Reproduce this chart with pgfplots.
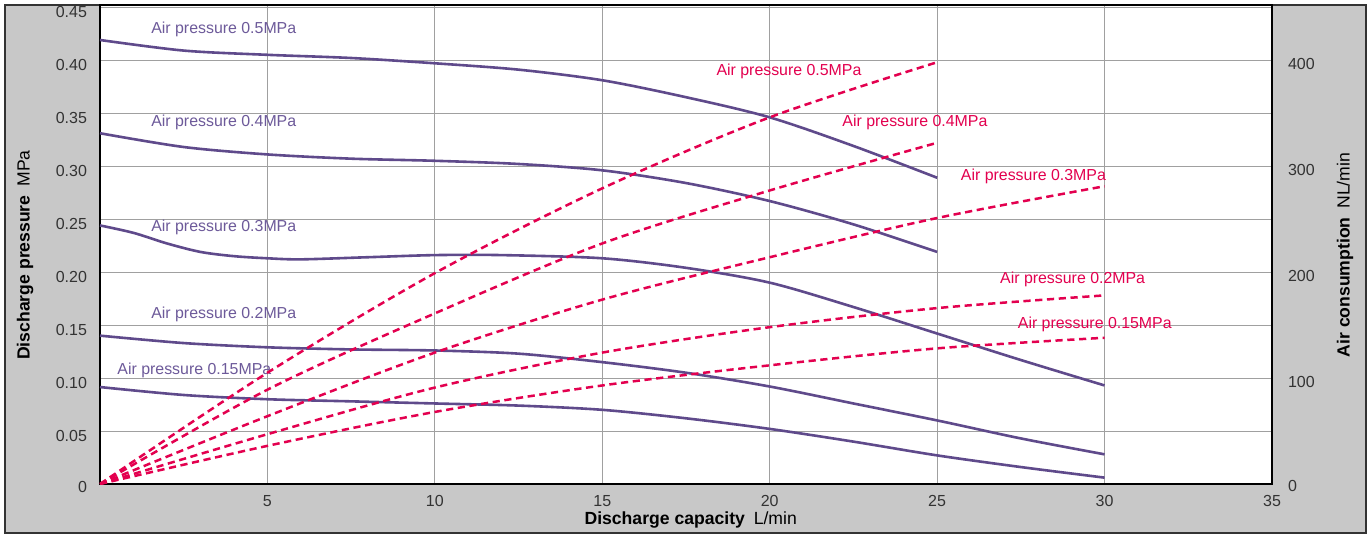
\documentclass[border=0pt]{standalone}
\usepackage{fontspec}
\setmainfont{Liberation Sans}
\usepackage{pgfplots}
\pgfplotsset{compat=1.18}
\definecolor{purp}{HTML}{5F4A8B}
\definecolor{purptxt}{HTML}{6D5A9A}
\definecolor{redd}{HTML}{E3004F}
\definecolor{framegray}{HTML}{C8C8C8}
\definecolor{gridgray}{HTML}{A0A0A0}
\definecolor{ticktxt}{HTML}{333333}
\begin{document}
\begin{tikzpicture}[x=1pt,y=1pt]
\useasboundingbox (-50,-27) rectangle (636,242);
\fill[framegray, draw=black!80, line width=0.9pt] (-47.5,-24.5) rectangle (633,239.5);
\begin{axis}[
  at={(0,0)}, anchor=south west,
  scale only axis, width=586pt, height=239.5pt,
  xmin=0, xmax=35, ymin=0, ymax=0.452,
  axis background/.style={fill=white},
  xtick={5,10,15,20,25,30,35},
  ytick={0,0.05,0.1,0.15,0.2,0.25,0.3,0.35,0.4,0.45},
  yticklabels={\raisebox{2.5pt}{0},0.05,0.10,0.15,0.20,0.25,0.30,0.35,0.40,\raisebox{-2pt}{0.45}},
  /pgf/number format/assume math mode=true,
  grid=major, major grid style={gridgray, line width=0.5pt},
  major tick length=0pt,
  axis line style={black, line width=1pt},
  tick label style={font=\fontsize{8}{9}\selectfont, text=ticktxt},
  xticklabel style={yshift=-2pt},
  yticklabel style={xshift=-3pt, yshift=-2.5pt},
  xlabel={\textbf{Discharge capacity}\enspace L/min},
  ylabel={\textbf{Discharge pressure}\enspace MPa},
  every axis x label/.style={at={(axis description cs:0.504,-0.075)}, anchor=center, font=\fontsize{8.8}{10}\selectfont},
  every axis y label/.style={at={(axis description cs:-0.064,0.478)}, rotate=90, anchor=center, font=\fontsize{8.8}{10}\selectfont},
  clip=false,
]
\addplot[purp, line width=1.3pt, smooth] coordinates {(0,0.419)(2.5,0.409)(5,0.405)(7.5,0.402)(10,0.397)(12.5,0.391)(15,0.381)(17.5,0.365)(20,0.346)(22.5,0.319)(25,0.289)};
\addplot[purp, line width=1.3pt, smooth] coordinates {(0,0.331)(2.5,0.318)(5,0.311)(7.5,0.307)(10,0.305)(12.5,0.302)(15,0.296)(17.5,0.284)(20,0.267)(22.5,0.245)(25,0.219)};
\addplot[purp, line width=1.3pt, smooth] coordinates {(0,0.244)(1,0.237)(2,0.227)(3,0.219)(4,0.215)(5,0.213)(6,0.212)(8,0.214)(10,0.216)(12,0.216)(15,0.213)(17.5,0.204)(20,0.190)(22.5,0.167)(25,0.142)(27.5,0.117)(30,0.093)};
\addplot[purp, line width=1.3pt, smooth] coordinates {(0,0.140)(2.5,0.133)(5,0.129)(7.5,0.127)(10,0.126)(12.5,0.123)(15,0.115)(17.5,0.105)(20,0.092)(22.5,0.076)(25,0.060)(27.5,0.043)(30,0.028)};
\addplot[purp, line width=1.3pt, smooth] coordinates {(0,0.0915)(2.5,0.084)(5,0.080)(7.5,0.078)(10,0.076)(12.5,0.074)(15,0.070)(17.5,0.062)(20,0.052)(22.5,0.040)(25,0.027)(27.5,0.016)(30,0.006)};
\begin{scope}[every node/.style={anchor=west, inner sep=0pt, font=\fontsize{7.95}{9}\selectfont}]
\node[text=purptxt] at (axis cs:1.52,0.429) {Air pressure 0.5MPa};
\node[text=purptxt] at (axis cs:1.52,0.341) {Air pressure 0.4MPa};
\node[text=purptxt] at (axis cs:1.52,0.242) {Air pressure 0.3MPa};
\node[text=purptxt] at (axis cs:1.52,0.160) {Air pressure 0.2MPa};
\node[text=purptxt] at (axis cs:0.51,0.107) {Air pressure 0.15MPa};
\node[text=redd] at (axis cs:18.4,0.389) {Air pressure 0.5MPa};
\node[text=redd] at (axis cs:22.16,0.341) {Air pressure 0.4MPa};
\node[text=redd] at (axis cs:25.7,0.290) {Air pressure 0.3MPa};
\node[text=redd] at (axis cs:26.87,0.193) {Air pressure 0.2MPa};
\node[text=redd] at (axis cs:27.4,0.151) {Air pressure 0.15MPa};
\end{scope}
\end{axis}
\begin{axis}[
  at={(0,0)}, anchor=south west,
  scale only axis, width=586pt, height=239.5pt,
  xmin=0, xmax=35, ymin=0, ymax=452,
  axis x line=none, axis y line*=right,
  ytick={0,100,200,300,400},
  yticklabels={\raisebox{2pt}{0},100,200,300,400},
  /pgf/number format/assume math mode=true,
  major tick length=0pt,
  axis line style={black, line width=1pt},
  tick label style={font=\fontsize{8}{9}\selectfont, text=ticktxt},
  yticklabel style={xshift=4.5pt, yshift=-2pt},
  ylabel={\textbf{Air consumption}\enspace NL/min},
  every axis y label/.style={at={(axis description cs:1.0623,0.478)}, rotate=90, anchor=center, font=\fontsize{8.8}{10}\selectfont},
]
\addplot[redd, line width=1.25pt, dash pattern=on 3.6pt off 2.3pt, smooth] coordinates {(0,0)(5,105)(10,199)(15,279)(20,346)(25,398)};
\addplot[redd, line width=1.25pt, dash pattern=on 3.6pt off 2.3pt, smooth] coordinates {(0,0)(5,89)(10,161)(15,227)(20,277)(25,322)};
\addplot[redd, line width=1.25pt, dash pattern=on 3.6pt off 2.3pt, smooth] coordinates {(0,0)(5,64)(10,124)(15,174)(20,214)(25,251)(30,281)};
\addplot[redd, line width=1.25pt, dash pattern=on 3.6pt off 2.3pt, smooth] coordinates {(0,0)(5,47)(10,91)(15,124)(20,148)(25,166)(30,178)};
\addplot[redd, line width=1.25pt, dash pattern=on 3.6pt off 2.3pt, smooth] coordinates {(0,0)(5,36)(10,68)(15,93)(20,112)(25,128)(30,138)};
\end{axis}
\end{tikzpicture}
\end{document}
